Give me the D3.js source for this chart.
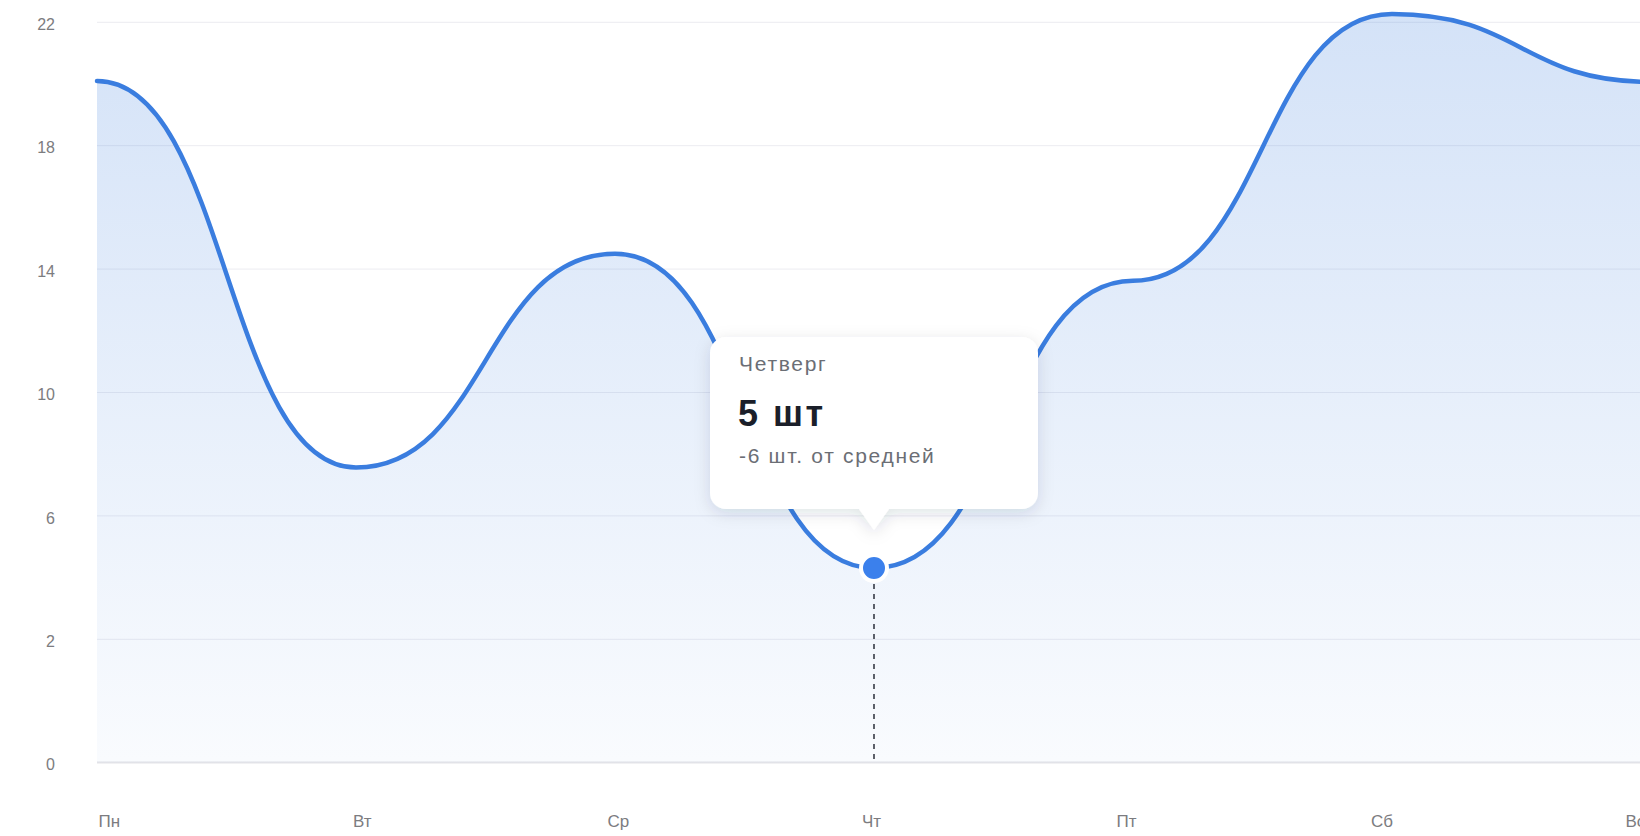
<!DOCTYPE html>
<html lang="ru">
<head>
  <meta charset="utf-8">
  <title>Неделя</title>
  <script src="https://cdnjs.cloudflare.com/ajax/libs/d3/7.8.5/d3.min.js"></script>
  <style>
    html, body { margin: 0; padding: 0; background: #fff; }
    svg { display: block; font-family: "Liberation Sans", Arial, sans-serif; }
    .grid line { stroke: #ececf1; stroke-width: 1; }
    .grid .zero line { stroke: #e4e4e8; stroke-width: 2; }
    .axis text { fill: #7c7c80; }
  </style>
</head>
<body>
<svg id="chart" width="1640" height="836"></svg>
<script>
  // данные
  var days = ["Пн", "Вт", "Ср", "Чт", "Пт", "Сб", "Вс"];
  var values = [20.1, 7.57, 14.5, 4.31, 13.62, 22.27, 20.07];
  var yTicks = [0, 2, 6, 10, 14, 18, 22];
  var active = 3;
  var tipTitle = "Четверг";
  var tipValue = "5 шт";
  var tipNote = "-6 шт. от средней";

  var W = 1640, H = 836;
  var svg = d3.select("#chart");

  var x = d3.scalePoint().domain(days).range([97, 97 + 6 * 259]);
  // шкала с неравным шагом: 0-2 и далее по 4
  var y = d3.scaleLinear().domain([0, 2, 22]).range([762.5, 639.3, 22.3]);
  var xLab = d3.scalePoint().domain(days).range([98, 1625]);

  var defs = svg.append("defs");
  var grad = defs.append("linearGradient").attr("id", "fillGrad")
    .attr("x1", 0).attr("y1", 0).attr("x2", 0).attr("y2", 1);
  grad.append("stop").attr("offset", "0%").attr("stop-color", "#3b7ddd").attr("stop-opacity", 0.22);
  grad.append("stop").attr("offset", "100%").attr("stop-color", "#3b7ddd").attr("stop-opacity", 0.03);

  var shadow = defs.append("filter").attr("id", "shadow")
    .attr("x", "-20%").attr("y", "-20%").attr("width", "140%").attr("height", "150%");
  shadow.append("feDropShadow").attr("dx", 0).attr("dy", 4).attr("stdDeviation", 8)
    .attr("flood-color", "#1a2a4a").attr("flood-opacity", 0.13);

  // сетка
  var grid = svg.append("g").attr("class", "grid");
  grid.selectAll("line").data(yTicks.filter(d => d !== 0)).enter().append("line")
    .attr("x1", 97).attr("x2", W)
    .attr("y1", d => y(d)).attr("y2", d => y(d));
  grid.append("g").attr("class", "zero").append("line")
    .attr("x1", 97).attr("x2", W).attr("y1", y(0)).attr("y2", y(0));

  // ось Y
  var yAxis = svg.append("g").attr("class", "axis")
    .attr("transform", "translate(55,0)")
    .call(d3.axisLeft(y).tickValues(yTicks).tickSize(0).tickPadding(0));
  yAxis.select(".domain").remove();
  yAxis.selectAll("text").attr("font-size", 16).attr("dy", "0.45em");

  // ось X
  var xAxis = svg.append("g").attr("class", "axis")
    .attr("transform", "translate(0,812)")
    .call(d3.axisBottom(xLab).tickSize(0).tickPadding(0));
  xAxis.select(".domain").remove();
  xAxis.selectAll("text").attr("font-size", 17).attr("text-anchor", "start").attr("dy", "0.9em");

  // область и линия
  var area = d3.area().curve(d3.curveBumpX)
    .x((d, i) => x(days[i])).y0(y(0)).y1(d => y(d));
  var line = d3.line().curve(d3.curveBumpX)
    .x((d, i) => x(days[i])).y(d => y(d));

  svg.append("path").datum(values).attr("d", area).attr("fill", "url(#fillGrad)");
  svg.append("path").datum(values).attr("d", line)
    .attr("fill", "none").attr("stroke", "#3a7ddf").attr("stroke-width", 4.5)
    .attr("stroke-linecap", "round");

  // активная точка
  var cx = x(days[active]), cy = y(values[active]);
  svg.append("line")
    .attr("x1", cx).attr("x2", cx).attr("y1", cy + 16).attr("y2", y(0))
    .attr("stroke", "#2b2f3a").attr("stroke-width", 1.5).attr("stroke-dasharray", "5,5");
  svg.append("circle").attr("cx", cx).attr("cy", cy).attr("r", 13)
    .attr("fill", "#3b80ec").attr("stroke", "#fff").attr("stroke-width", 4);

  // подсказка
  var bw = 328, bh = 172, r = 16;
  var bx = cx - bw / 2, by = cy - 231, bb = by + bh, tipY = cy - 38;
  var p = d3.path();
  p.moveTo(bx + r, by);
  p.lineTo(bx + bw - r, by);
  p.arcTo(bx + bw, by, bx + bw, by + r, r);
  p.lineTo(bx + bw, bb - r);
  p.arcTo(bx + bw, bb, bx + bw - r, bb, r);
  p.lineTo(cx + 15, bb);
  p.lineTo(cx, tipY);
  p.lineTo(cx - 15, bb);
  p.lineTo(bx + r, bb);
  p.arcTo(bx, bb, bx, bb - r, r);
  p.lineTo(bx, by + r);
  p.arcTo(bx, by, bx + r, by, r);
  p.closePath();

  var tip = svg.append("g");
  tip.append("path").attr("d", p.toString()).attr("fill", "#fff").attr("filter", "url(#shadow)");
  tip.append("text").attr("x", bx + 29).attr("y", by + 34)
    .attr("font-size", 21).attr("letter-spacing", 1.7).attr("fill", "#6b6e75").text(tipTitle);
  tip.append("text").attr("x", bx + 28).attr("y", by + 89)
    .attr("font-size", 36).attr("font-weight", 600).attr("letter-spacing", 2.5)
    .attr("fill", "#1b1f2a").text(tipValue);
  tip.append("text").attr("x", bx + 29).attr("y", by + 126)
    .attr("font-size", 21).attr("letter-spacing", 1.7).attr("fill", "#6b6e75").text(tipNote);
</script>
</body>
</html>
